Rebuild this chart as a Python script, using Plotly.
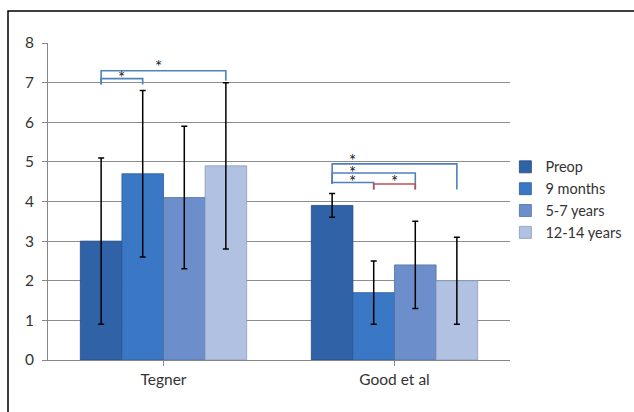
import plotly.graph_objects as go

# ---- data ----
categories = ["Tegner", "Good et al"]
series_names = ["Preop", "9 months", "5-7 years", "12-14 years"]
values = {
    "Preop":       [3.0, 3.9],
    "9 months":    [4.7, 1.7],
    "5-7 years":   [4.1, 2.4],
    "12-14 years": [4.9, 2.0],
}
errors = {
    "Preop":       [2.1, 0.3],
    "9 months":    [2.1, 0.8],
    "5-7 years":   [1.8, 1.1],
    "12-14 years": [2.1, 1.1],
}
# significance brackets: (category index, from series, to series, bar y, left leg end, right leg end, colour)
brackets = [
    (0, 0, 1, 7.10, 6.95, 6.95, "blue"),
    (0, 0, 3, 7.30, 6.95, 7.05, "blue"),
    (1, 0, 3, 4.95, 4.45, 4.30, "blue"),
    (1, 0, 2, 4.72, 4.45, 4.30, "blue"),
    (1, 0, 1, 4.48, 4.45, 4.30, "blue"),
    (1, 1, 2, 4.44, 4.30, 4.30, "red"),
]
# asterisk labels: (category index, x between series a and b, y)
stars = [
    (0, 0, 1, 7.22),
    (0, 0.75, 2, 7.50),
    (1, 0, 1, 5.13),
    (1, 0, 1, 4.84),
    (1, 0, 1, 4.60),
    (1, 1, 2, 4.60),
]

colors = ["#2F62A6", "#3A78C6", "#6C8FCB", "#B0C1E2"]
line_colors = ["#23497C", "#2C5C98", "#50709F", "#8A9CBE"]
bracket_colors = {"blue": "#4F81BD", "red": "#C0504D"}
FONT = "Lato"
bargap = 0.28

fig = go.Figure()
for i, name in enumerate(series_names):
    fig.add_trace(go.Bar(
        name=name, x=[0, 1], y=values[name],
        marker=dict(color=colors[i], line=dict(color=line_colors[i], width=0.8)),
        error_y=dict(type="data", array=errors[name], visible=True,
                     color="black", thickness=1.5, width=3),
        legendgroup=name,
    ))

n = len(series_names)
gw = 1 - bargap


def bar_center(cat, s):
    return cat - gw / 2 + (s + 0.5) * gw / n


shapes = []
for cat, a, b, ytop, yl, yr, col in brackets:
    xa, xb = bar_center(cat, a), bar_center(cat, b)
    shapes.append(dict(type="path", xref="x", yref="y",
                       path=f"M {xa},{yl} L {xa},{ytop} L {xb},{ytop} L {xb},{yr}",
                       line=dict(color=bracket_colors[col], width=1.6)))

# outer frame
W, H = 634, 412
L, R, T, B = 48, 124, 43, 52
pw, ph = W - L - R, H - T - B
shapes.append(dict(type="rect", xref="paper", yref="paper",
                   x0=(8 - L) / pw, x1=(W + 5 - L) / pw,
                   y0=(H - B - (H + 5)) / ph, y1=(H - B - 11) / ph,
                   line=dict(color="black", width=1.5), layer="below"))

annotations = []
for cat, a, b, y in stars:
    xa = bar_center(cat, a)
    xb = bar_center(cat, b)
    annotations.append(dict(x=(xa + xb) / 2, y=y, xref="x", yref="y", text="*",
                            showarrow=False, yanchor="middle", yshift=-4,
                            font=dict(family=FONT, size=17, color="#222")))

fig.update_layout(
    width=W, height=H,
    margin=dict(l=L, r=R, t=T, b=B, autoexpand=False),
    paper_bgcolor="white", plot_bgcolor="white",
    barmode="group", bargap=bargap, bargroupgap=0,
    font=dict(family=FONT, size=14, color="#333"),
    shapes=shapes, annotations=annotations,
    legend=dict(x=0.99, y=0.505, xanchor="left", yanchor="middle",
                font=dict(family=FONT, size=14.5, color="#333"),
                itemwidth=30, tracegroupgap=2, traceorder="normal",
                bgcolor="rgba(0,0,0,0)"),
    showlegend=True,
)
fig.update_xaxes(
    tickmode="array", tickvals=[0, 1], ticktext=categories,
    range=[-0.5, 1.5], showgrid=False, zeroline=False, automargin=False,
    showline=True, linecolor="#868686", linewidth=1,
    ticks="outside", ticklen=5, tickcolor="#868686",
    tickfont=dict(family=FONT, size=15.5, color="#333"),
)
fig.update_yaxes(
    range=[0, 8], dtick=1, showgrid=True, gridcolor="#8C8C8C", gridwidth=1,
    zeroline=False, showline=True, linecolor="#868686", linewidth=1, automargin=False,
    ticks="outside", ticklen=5, tickcolor="#868686", ticklabelstandoff=5,
    tickfont=dict(family=FONT, size=15.5, color="#333"),
)

fig.write_html("out.html", config={"displayModeBar": False},
               post_script="document.body.style.margin='0px';")
